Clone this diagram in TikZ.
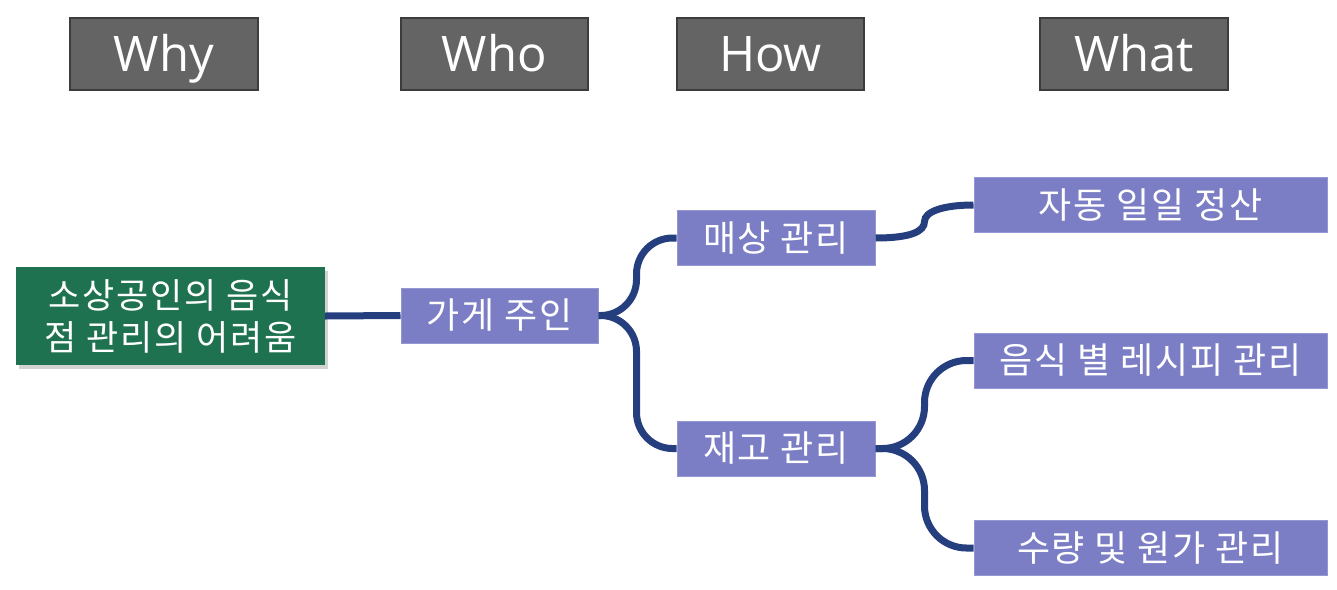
\documentclass[tikz,border=0pt]{standalone}
\usepackage{fontspec}
\setmainfont{Open Sans}
\newfontfamily\kr[LetterSpace=5]{Noto Sans CJK KR}
\usetikzlibrary{shadows,calc}
\definecolor{hdrfill}{HTML}{646464}
\definecolor{hdrline}{HTML}{3C3C3C}
\definecolor{purp}{HTML}{7B7EC4}
\definecolor{purpline}{HTML}{9597D4}
\definecolor{grn}{HTML}{1F7250}
\definecolor{conncol}{HTML}{243E7E}
\tikzset{
  hdr/.style={draw=hdrline, line width=1.5pt, fill=hdrfill, text=white, minimum width=188pt, minimum height=72pt, inner sep=0pt, text height=35pt, text depth=0pt, font=\fontsize{49}{52}\selectfont},
  pbox/.style={draw=purpline, line width=1pt, fill=purp, text=white, minimum height=55pt, inner sep=0pt, font=\kr\fontsize{36}{40}\selectfont},
  gbox/.style={fill=grn, text=white, minimum width=309pt, minimum height=98pt, inner sep=0pt, align=center, font=\kr\fontsize{35}{42}\selectfont, drop shadow={shadow xshift=3pt, shadow yshift=-4pt, opacity=0.35}},
  conn/.style={draw=conncol, line width=7pt}
}
\begin{document}
\begin{tikzpicture}[x=1pt,y=-1pt]
\useasboundingbox (0,0) rectangle (1337,589);
\node[hdr] (why) at (164,54) {Why};
\node[hdr, minimum width=187pt] (who) at (494.5,54) {Who};
\node[hdr, minimum width=187pt] (how) at (770.5,54) {How};
\node[hdr] (what) at (1134,54) {What};

\node[gbox] (g) at (170.5,316) {소상공인의 음식\\점 관리의 어려움};
\node[pbox, minimum width=197pt] (own) at (499.5,315.5) {가게 주인};
\node[pbox, minimum width=198pt] (mae) at (776,238) {매상 관리};
\node[pbox, minimum width=198pt] (jae) at (776,448.5) {재고 관리};
\node[pbox, minimum width=353pt] (ja) at (1150.5,205) {자동 일일 정산};
\node[pbox, minimum width=353pt] (eum) at (1150.5,360.5) {음식 별 레시피 관리};
\node[pbox, minimum width=353pt] (su) at (1150.5,548) {수량 및 원가 관리};

\draw[conn] (g.east) -- (own.west);
\draw[conn, rounded corners=36pt] (own.east) -- ([xshift=38pt]own.east) |- (mae.west);
\draw[conn, rounded corners=36pt] (own.east) -- ([xshift=38pt]own.east) |- (jae.west);
\coordinate (m1) at ($(mae.east)!0.5!(ja.west)$);
\draw[conn] (mae.east) .. controls +(35,0) and +(0,10) .. (m1) .. controls +(0,-10) and +(-30,0) .. (ja.west);
\draw[conn, rounded corners=42pt] (jae.east) -- ([xshift=49pt]jae.east) |- (eum.west);
\draw[conn, rounded corners=42pt] (jae.east) -- ([xshift=49pt]jae.east) |- (su.west);
\end{tikzpicture}
\end{document}
